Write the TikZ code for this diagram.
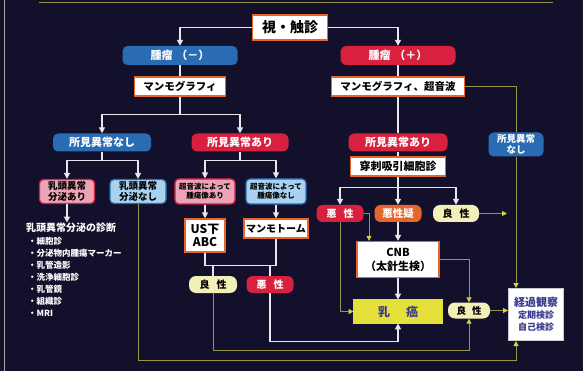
\documentclass[tikz,border=0pt]{standalone}
\usepackage{fontspec}
\setmainfont{Noto Sans CJK JP}[BoldFont={Noto Sans CJK JP Black}]
\usetikzlibrary{arrows.meta}

\definecolor{navy}{HTML}{13102C}
\definecolor{pblue}{HTML}{2A6CB4}
\definecolor{pred}{HTML}{D8203F}
\definecolor{ppink}{HTML}{EBA3B5}
\definecolor{psky}{HTML}{A8D2F0}
\definecolor{orng}{HTML}{E6652B}
\definecolor{pyel}{HTML}{F2EFB8}
\definecolor{cyel}{HTML}{E6E03A}
\definecolor{cdark}{HTML}{8C8A2A}
\definecolor{olv}{HTML}{9A944A}
\definecolor{ayel}{HTML}{D8D03A}
\definecolor{lwhite}{HTML}{E6E6EE}
\definecolor{kblue}{HTML}{3A3A8C}
\definecolor{kgray}{HTML}{C8C8D8}

\newcommand{\fsz}[2]{\fontsize{#1}{#2}\selectfont\bfseries}

\begin{document}
\begin{tikzpicture}[x=1pt,y=-1pt,
  >={Triangle[length=6pt,width=6pt]},
  every node/.style={inner sep=0pt,align=center},
  sz/.style 2 args={minimum width=#1pt,minimum height=#2pt},
  wbox/.style={draw=orng,line width=1.3pt,fill=white,text=black},
  bpill/.style={fill=pblue,text=white,rounded corners=5pt},
  rpill/.style={fill=pred,text=white,rounded corners=6pt},
  pinkb/.style={fill=ppink,draw=pred,line width=1.2pt,rounded corners=4pt,text=black},
  skyb/.style={fill=psky,draw=pblue,line width=1.2pt,rounded corners=4pt,text=black},
  ypill/.style={fill=pyel,text=black,rounded corners=7pt},
  opill/.style={fill=orng,text=white,rounded corners=6pt},
  cancer/.style={fill=cyel,draw=cdark,line width=0.8pt,double=cyel,double distance=1.2pt,text=kblue},
  wline/.style={draw=lwhite,line width=1.5pt},
  oline/.style={draw=olv,line width=1pt,>={Triangle[length=5pt,width=5pt,color=ayel]}},
]
\fill[navy] (0,0) rectangle (583,370);
\draw[gray!70,line width=1pt] (4,0) -- (4,370);
\draw[olv,line width=1.2pt] (39,2) -- (553,2);

% top
\node[wbox,sz={75}{25},font=\fsz{14}{15}] (shi) at (290,27) {視・触診};
\node[bpill,sz={115}{19},font=\fsz{11}{13}] (tneg) at (180,55) {腫瘤\hspace{4pt}（－）};
\node[rpill,sz={115}{19},font=\fsz{11}{13}] (tpos) at (398,55) {腫瘤\hspace{4pt}（＋）};
\node[wbox,sz={91}{19},font=\fsz{10.5}{12}] (mmgL) at (180,86) {マンモグラフィ};
\node[wbox,sz={133}{19},font=\fsz{10.5}{12}] (mmgR) at (398,86) {マンモグラフィ、超音波};

% left branch
\node[bpill,sz={98}{18},font=\fsz{11}{13}] (nashiL) at (102,142) {所見異常なし};
\node[rpill,sz={97}{18},font=\fsz{11}{13}] (ariL) at (240,142) {所見異常あり};
\node[pinkb,sz={55}{24},font=\fsz{9.5}{10.5}] (bunA) at (67,191) {乳頭異常\\分泌あり};
\node[skyb,sz={56}{24},font=\fsz{9.5}{10.5}] (bunN) at (138,191) {乳頭異常\\分泌なし};
\node[anchor=west,text=white,font=\fsz{10}{12}] (shindan) at (26,227) {乳頭異常分泌の診断};
\node[anchor=north west,align=left,text=white,font=\fsz{8.5}{12}] (kensa) at (28,237)
  {・細胞診\\・分泌物内腫瘍マーカー\\・乳管造影\\・洗浄細胞診\\・乳管鏡\\・組織診\\・MRI};
\node[pinkb,sz={60}{25},font=\fsz{7.5}{9}] (usA) at (205,191) {超音波によって\\腫瘍像あり};
\node[skyb,sz={60}{25},font=\fsz{7.5}{9}] (usN) at (276,191) {超音波によって\\腫瘍像なし};
\node[wbox,sz={40}{33},font=\fsz{12}{13}] (abc) at (205,235) {US下\\ABC};
\node[wbox,sz={64}{19},font=\fsz{10}{12}] (mmt) at (276,228) {マンモトーム};
\node[ypill,sz={48}{17},font=\fsz{10}{12}] (ryoL) at (213,284) {良\hspace{7pt}性};
\node[rpill,sz={47}{17},font=\fsz{10}{12}] (akuL) at (270,284) {悪\hspace{7pt}性};

% right branch
\node[rpill,sz={99}{18},font=\fsz{11}{13}] (ariR) at (398,142) {所見異常あり};
\node[bpill,sz={55}{24},font=\fsz{9.5}{10.5}] (nashiR) at (516,144) {所見異常\\なし};
\node[wbox,sz={95}{19},font=\fsz{11}{13}] (senshi) at (398,166) {穿刺吸引細胞診};
\node[rpill,sz={47}{17},font=\fsz{10}{12}] (akuR) at (340,213) {悪\hspace{7pt}性};
\node[opill,sz={47}{17},font=\fsz{10.5}{12}] (giR) at (398,213) {悪性疑};
\node[ypill,sz={46}{17},font=\fsz{10}{12}] (ryoM) at (456,213) {良\hspace{7pt}性};
\node[wbox,sz={82}{36},font=\fsz{11}{14}] (cnb) at (398,259) {CNB\\（太針生検）};
\node[cancer,sz={88}{23},font=\fsz{12}{14}] (gan) at (398,311) {乳\hspace{16pt}癌};
\node[ypill,sz={42}{16},font=\fsz{9.5}{12}] (ryoR) at (469,310) {良\hspace{6pt}性};
\node[draw=kgray,line width=1pt,fill=white,sz={55}{52},text=kblue,font=\fsz{9}{12}] (keika) at (536,314)
  {\fsz{11}{16}経過観察\\定期検診\\自己検診};

\coordinate (jL) at (180,114);
\coordinate (jN) at (102,160);
\coordinate (jA) at (240,160);
\coordinate (jR) at (398,187);
\coordinate (jB) at (240,265);
\coordinate (b1) at (398,341);
\coordinate (b2) at (469,350);
\coordinate (b3) at (516,360);
\coordinate (rmEnd) at (507,213);

\draw[wline,->] (shi.west) -| (tneg.north);
\draw[wline,->] (shi.east) -| (tpos.north);
\draw[wline] (tneg) -- (mmgL);
\draw[wline] (mmgL) -- (jL);
\draw[wline,->] (jL) -| (nashiL.north);
\draw[wline,->] (jL) -| (ariL.north);
\draw[wline] (tpos) -- (mmgR);
\draw[wline] (mmgR) -- (ariR);
\draw[oline] (mmgR.east) -| (nashiR.north);
\draw[oline,->] (nashiR.south) -- (nashiR.south |- keika.north);

\draw[wline] (nashiL) -- (jN);
\draw[wline,->] (jN) -| (bunA.north);
\draw[wline,->] (jN) -| (bunN.north);
\draw[wline,->] (bunA.south) -- (bunA.south |- shindan.north);
\draw[oline,->] (bunN.south) |- (b3) -- (keika.south -| b3);

\draw[wline] (ariL) -- (jA);
\draw[wline,->] (jA) -| (usA.north);
\draw[wline,->] (jA) -| (usN.north);
\draw[wline,->] (usA) -- (abc);
\draw[wline,->] (usN) -- (mmt);
\draw[wline] (abc.south) |- (jB) -| (mmt.south);
\draw[wline] (ryoL.north |- jB) -- (ryoL.north);
\draw[wline] (akuL.north |- jB) -- (akuL.north);
\draw[oline,->] (ryoL.south) |- (b2) -- (ryoR.south);
\draw[wline,->] (akuL.south) |- (b1) -- (gan.south);

\draw[wline] (ariR) -- (senshi);
\draw[wline] (senshi) -- (jR);
\draw[wline,->] (jR) -| (akuR.north);
\draw[wline,->] (jR) -- (giR.north);
\draw[wline,->] (jR) -| (ryoM.north);
\draw[oline,->] (akuR.east) -| ([xshift=-29pt]cnb.north);
\draw[oline,->] (akuR.south) |- (gan.west);
\draw[wline,->] (giR) -- (cnb);
\draw[wline,->] (cnb) -- (gan);
\draw[oline,->] (cnb.east) -| (ryoR.north);
\draw[oline,->] (ryoM.east) -- (rmEnd);
\draw[oline,->] (ryoR.east) -- (ryoR.east -| keika.west);
\end{tikzpicture}
\end{document}
